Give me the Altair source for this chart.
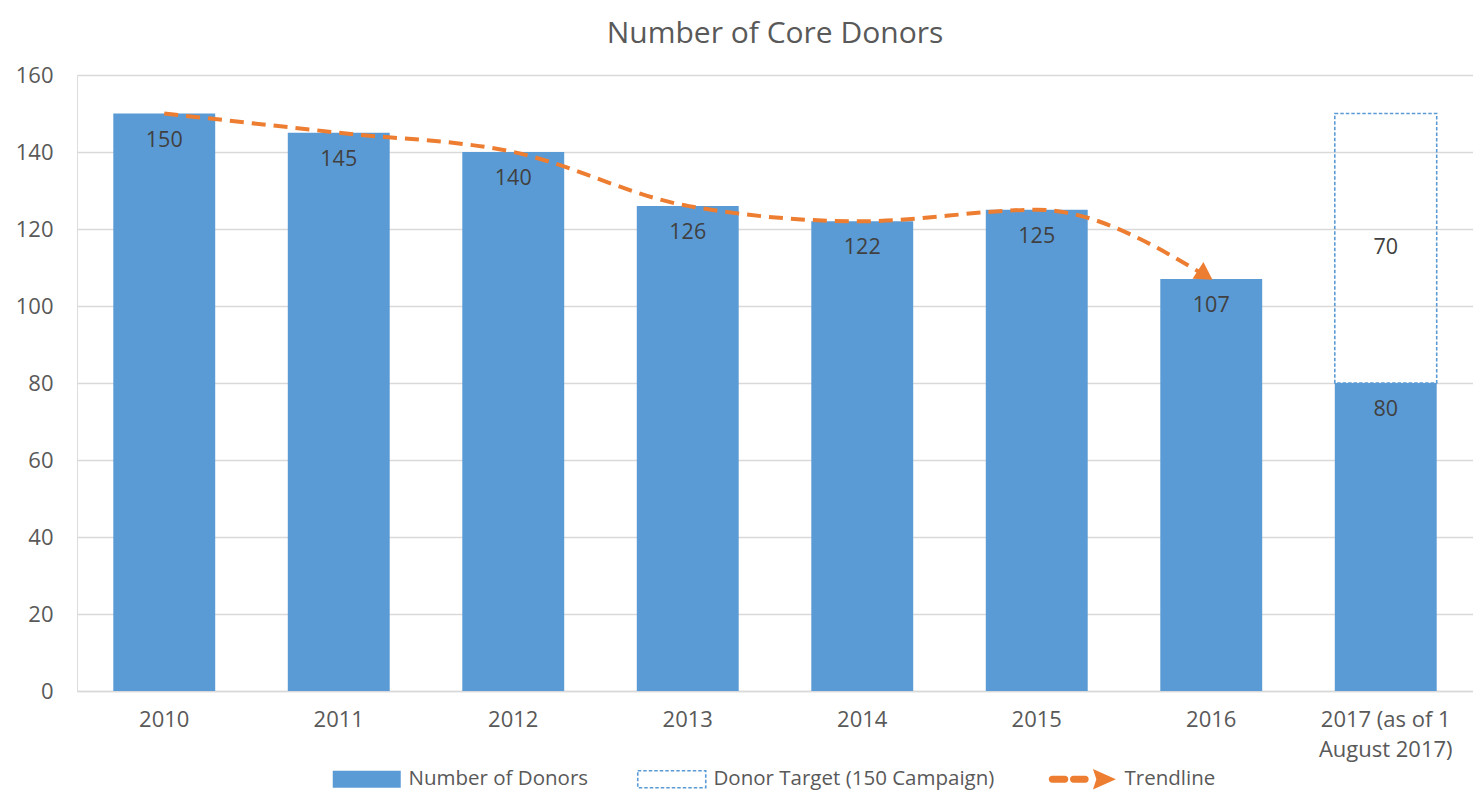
import altair as alt
import pandas as pd

# ---- data ----
years = ["2010", "2011", "2012", "2013", "2014", "2015", "2016", "2017 (as of 1\nAugust 2017)"]
donors = [150, 145, 140, 126, 122, 125, 107, 80]

target_years = ["2017 (as of 1\nAugust 2017)"]
target_base = [80]
target_extra = [70]

trend_years = ["2010", "2011", "2012", "2013", "2014", "2015", "2016"]
trend_values = [150, 145, 140, 126, 122, 125, 107]

y_ticks = [0, 20, 40, 60, 80, 100, 120, 140, 160]

DONORS = "Number of Donors"
TARGET = "Donor Target (150 Campaign)"
TREND = "Trendline"

BLUE = "#5b9bd5"
ORANGE = "#ed7d31"
GRID = "#d9d9d9"
AXIS_TXT = "#595959"
LBL_TXT = "#404040"
FONT = "Open Sans"

df_bars = pd.DataFrame({"year": years, "value": donors, "series": DONORS})
df_target = pd.DataFrame({"year": target_years, "base": target_base, "extra": target_extra, "series": TARGET})
df_target["top"] = df_target["base"] + df_target["extra"]
df_target["mid"] = df_target["base"] + df_target["extra"] / 2
df_trend = pd.DataFrame({"year": trend_years, "value": trend_values, "series": TREND})
df_arrow = df_trend.tail(1)

RECT_PATH = "M-1,-1H7V1H-1Z"
TREND_PATH = ("M-0.6,-0.4H0.9A0.4,0.4 0 0 1 0.9,0.4H-0.6A0.4,0.4 0 0 1 -0.6,-0.4Z "
              "M1.9,-0.4H3.3A0.4,0.4 0 0 1 3.3,0.4H1.9A0.4,0.4 0 0 1 1.9,-0.4Z "
              "M4.2,-1.2L6.9,0L4.2,1.2L4.6,0Z")

x_enc = alt.X(
    "year:N",
    sort=years,
    scale=alt.Scale(paddingInner=0.416, paddingOuter=0.208),
    axis=alt.Axis(
        title=None, labelAngle=0, labelExpr="split(datum.label, '\\n')",
        ticks=False, tickSize=0, domain=True, domainColor=GRID, domainWidth=1.3,
        labelPadding=18, labelFontSize=22, labelColor=AXIS_TXT, labelFont=FONT,
        labelLineHeight=30, grid=False,
    ),
)
x_plain = alt.X("year:N", sort=years)

y_enc = alt.Y(
    "value:Q",
    scale=alt.Scale(domain=[0, 160], nice=False),
    axis=alt.Axis(
        title=None, values=y_ticks, ticks=False, tickSize=0, domain=False,
        gridColor=GRID, gridWidth=1.3, labelPadding=24, labelFontSize=22,
        labelColor=AXIS_TXT, labelFont=FONT,
    ),
)

legend_common = dict(
    orient="none", title=None, labelFontSize=20.5, labelColor=AXIS_TXT, labelFont=FONT,
    symbolSize=289, labelOffset=57, direction="horizontal", labelLimit=500,
)

bars = alt.Chart(df_bars).mark_bar().encode(
    x=x_enc,
    y=y_enc,
    fill=alt.Fill(
        "series:N",
        scale=alt.Scale(domain=[DONORS], range=[BLUE]),
        legend=alt.Legend(legendX=254, legendY=694, symbolType=RECT_PATH,
                          symbolStrokeWidth=0, **legend_common),
    ),
)

bar_labels = alt.Chart(df_bars).mark_text(
    dy=27, fontSize=21.5, color=LBL_TXT, font=FONT, baseline="middle"
).encode(x=x_plain, y=alt.Y("value:Q"), text=alt.Text("value:Q"))

target = alt.Chart(df_target).mark_bar(
    fill="transparent", strokeWidth=1.6, strokeDash=[3.5, 2]
).encode(
    x=x_plain,
    y=alt.Y("base:Q"),
    y2="top:Q",
    stroke=alt.Stroke(
        "series:N",
        scale=alt.Scale(domain=[TARGET], range=[BLUE]),
        legend=alt.Legend(legendX=559, legendY=694, symbolType=RECT_PATH,
                          symbolFillColor="transparent", symbolDash=[3.5, 2],
                          symbolStrokeWidth=1.6, **legend_common),
    ),
)

target_labels = alt.Chart(df_target).mark_text(
    fontSize=21.5, color=LBL_TXT, font=FONT, baseline="middle"
).encode(x=x_plain, y=alt.Y("mid:Q"), text=alt.Text("extra:Q"))

trend = alt.Chart(df_trend).mark_line(
    interpolate="monotone", strokeWidth=4, color=ORANGE
).encode(
    x=x_plain,
    y=alt.Y("value:Q"),
    strokeDash=alt.StrokeDash(
        "series:N",
        scale=alt.Scale(domain=[TREND], range=[[14, 8]]),
        legend=alt.Legend(legendX=970, legendY=694, symbolType=TREND_PATH,
                          symbolFillColor=ORANGE, symbolStrokeColor=ORANGE,
                          symbolStrokeWidth=0, symbolOpacity=1, **legend_common),
    ),
)

arrow = alt.Chart(df_arrow).mark_point(
    shape="triangle-right", filled=True, size=400, angle=33, color=ORANGE,
    opacity=1, xOffset=-6, yOffset=-4,
).encode(x=x_plain, y=alt.Y("value:Q"))

chart = (
    alt.layer(bars, target, trend, arrow, bar_labels, target_labels)
    .resolve_legend(fill="independent", stroke="independent", strokeDash="independent")
    .properties(
        width=1396,
        height=616,
        autosize=alt.AutoSizeParams(type="none"),
        padding={"left": 69, "top": 67, "right": 0, "bottom": 104},
        title=alt.Title(
            "Number of Core Donors", fontSize=30, font=FONT, color=AXIS_TXT,
            fontWeight="normal", anchor="middle", frame="group", offset=15,
        ),
    )
    .configure_view(stroke=None)
    .configure(background="white")
)

chart.save("out.html", embed_options={"renderer": "svg", "actions": False})
